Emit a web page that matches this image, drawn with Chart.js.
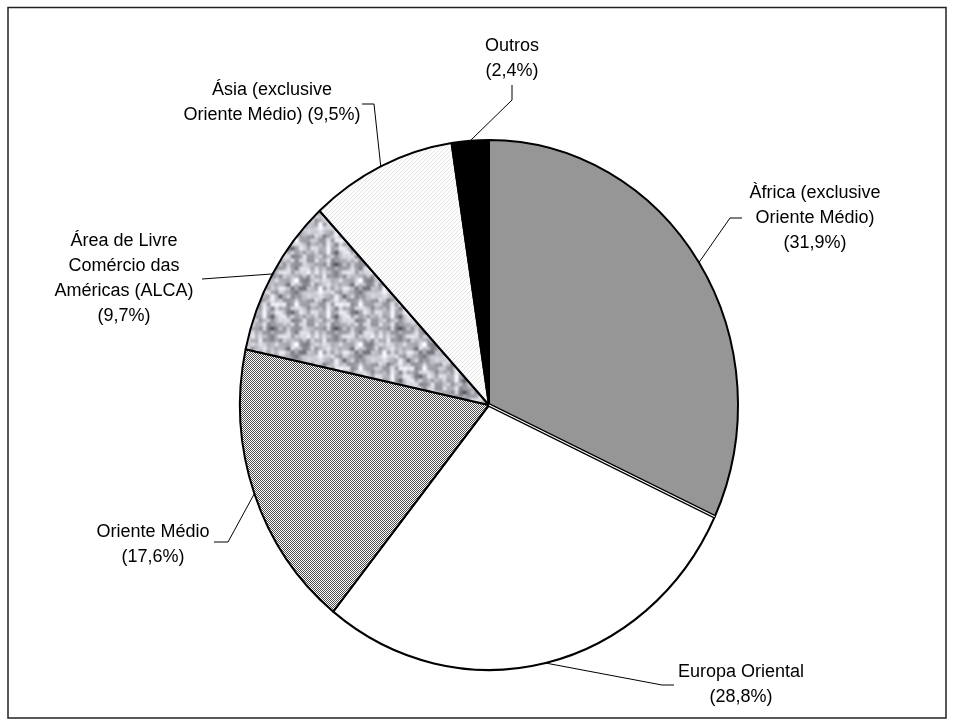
<!DOCTYPE html>
<html><head><meta charset="utf-8">
<script src="https://cdn.jsdelivr.net/npm/chart.js@4/dist/chart.umd.min.js"></script>
<style>html,body{margin:0;padding:0;background:#fff;} #wrap{position:relative;width:955px;height:726px;}</style>
</head><body><div id="wrap"><canvas id="c" width="955" height="726"></canvas></div>
<script>
// ---- data ----
const categories = [
  'Àfrica (exclusive\nOriente Médio)',
  'Europa Oriental',
  'Oriente Médio',
  'Área de Livre\nComércio das\nAméricas (ALCA)',
  'Ásia (exclusive\nOriente Médio)',
  'Outros'
];
const shares = [31.9, 28.8, 17.6, 9.7, 9.5, 2.4];

// ---- layout (positions, not data) ----
const RX = 249, K = 265 / 249, LINE_H = 25;
const labelLayout = [
  {x: 815, y: 193, leader: [[742, 218], [730, 218]]},
  {x: 741, y: 672, leader: [[674, 685], [662, 685]]},
  {x: 153, y: 532, leader: [[214, 542], [228, 542]]},
  {x: 124, y: 241, leader: [[202, 279]]},
  {x: 272, y: 90, inline: true, leader: [[362, 104], [374, 104]]},
  {x: 512, y: 46, leader: [[512, 85], [512, 100]]}
];

// ---- fill textures ----
function tile(w, h, fn) {
  const c = document.createElement('canvas'); c.width = w; c.height = h;
  const x = c.getContext('2d'); const img = x.createImageData(w, h);
  for (let j = 0; j < h; j++) for (let i = 0; i < w; i++) {
    const v = fn(i, j); const o = (j * w + i) * 4;
    img.data[o] = v[0]; img.data[o + 1] = v[1]; img.data[o + 2] = v[2]; img.data[o + 3] = 255;
  }
  x.putImageData(img, 0, 0); return c;
}
function seeded(s) { return function () { s = (Math.imul(s, 1664525) + 1013904223) >>> 0; return s / 4294967296; }; }
const rnd = seeded(98765);
function octave(n) { const g = []; for (let a = 0; a < n; a++) { g.push([]); for (let b = 0; b < n; b++) g[a].push(rnd()); } return g; }
const T = 64, g1 = octave(8), g2 = octave(16);
function sm(t) { return t * t * (3 - 2 * t); }
function sample(g, n, i, j) {
  const gx = i * n / T, gy = j * n / T; const x0 = Math.floor(gx), y0 = Math.floor(gy);
  const fx = sm(gx - x0), fy = sm(gy - y0);
  const a = g[y0 % n][x0 % n], b = g[y0 % n][(x0 + 1) % n], c = g[(y0 + 1) % n][x0 % n], d = g[(y0 + 1) % n][(x0 + 1) % n];
  return (a * (1 - fx) + b * fx) * (1 - fy) + (c * (1 - fx) + d * fx) * fy;
}
const ctx0 = document.getElementById('c').getContext('2d');
function pat(canvas) { return ctx0.createPattern(canvas, 'repeat'); }
const checker = pat(tile(2, 2, (i, j) => ((i + j) % 2 === 0) ? [80, 80, 80] : [255, 255, 255]));
const granite = pat(tile(T, T, (i, j) => {
  const v = 0.5 * sample(g1, 8, i, j) + 0.5 * sample(g2, 16, i, j);
  const gval = Math.max(0, Math.min(255, Math.round(80 + v * 190)));
  return [gval, gval, Math.min(255, gval + 8)];
}));
const hatch = pat(tile(4, 4, (i, j) => ((i + j) % 4 === 0) ? [226, 226, 226] : [255, 255, 255]));

const fills = ['#969696', '#ffffff', checker, granite, hatch, '#000000'];

// ---- plugins ----
const ellipsePlugin = {
  id: 'ellipse',
  beforeDatasetsDraw(chart) {
    const a = chart.getDatasetMeta(0).data[0]; const c = chart.ctx;
    c.save(); c.translate(a.x, a.y); c.scale(1, K); c.translate(-a.x, -a.y);
    const f0 = a.y * (K - 1) / K;
    [checker, granite, hatch].forEach(p => p.setTransform(new DOMMatrix([1, 0, 0, 1 / K, 0, f0])));
  },
  afterDatasetsDraw(chart) {
    const c = chart.ctx; const a = chart.getDatasetMeta(0).data[0];
    // double edge between the first two slices
    const ex = a.x + a.outerRadius * Math.cos(a.endAngle), ey = a.y + a.outerRadius * Math.sin(a.endAngle);
    c.lineCap = 'butt';
    c.beginPath(); c.moveTo(a.x, a.y); c.lineTo(ex, ey);
    c.strokeStyle = '#000'; c.lineWidth = 3.5; c.stroke();
    c.strokeStyle = '#fff'; c.lineWidth = 1; c.stroke();
    c.restore();
  }
};
function fmt(v) { return v.toFixed(1).replace('.', ','); }
const labelPlugin = {
  id: 'labels',
  afterDraw(chart) {
    const c = chart.ctx; const meta = chart.getDatasetMeta(0);
    c.save();
    // frame
    c.strokeStyle = '#222'; c.lineWidth = 1.5; c.strokeRect(8, 7.5, 938, 710.5);
    // leaders
    c.strokeStyle = '#000'; c.lineWidth = 1;
    meta.data.forEach((arc, i) => {
      const L = labelLayout[i]; const mid = (arc.startAngle + arc.endAngle) / 2;
      const px = arc.x + arc.outerRadius * Math.cos(mid), py = arc.y + arc.outerRadius * K * Math.sin(mid);
      c.beginPath(); c.moveTo(L.leader[0][0], L.leader[0][1]);
      for (let k = 1; k < L.leader.length; k++) c.lineTo(L.leader[k][0], L.leader[k][1]);
      c.lineTo(px, py); c.stroke();
    });
    // texts
    c.fillStyle = '#000'; c.font = '18px "Liberation Sans", Arial, sans-serif';
    c.textAlign = 'center'; c.textBaseline = 'middle';
    categories.forEach((name, i) => {
      const L = labelLayout[i]; const lines = name.split('\n'); const pct = '(' + fmt(shares[i]) + '%)';
      if (L.inline) lines[lines.length - 1] += ' ' + pct; else lines.push(pct);
      lines.forEach((t, k) => c.fillText(t, L.x, L.y + k * LINE_H));
    });
    c.restore();
  }
};

new Chart(document.getElementById('c'), {
  type: 'pie',
  data: {
    labels: categories,
    datasets: [{data: shares, backgroundColor: fills, borderColor: '#000', borderWidth: 2, hoverOffset: 0}]
  },
  options: {
    responsive: false, animation: false, events: [],
    radius: RX,
    layout: {padding: {left: 23, right: 0, top: 84, bottom: 0}},
    plugins: {legend: {display: false}, tooltip: {enabled: false}}
  },
  plugins: [ellipsePlugin, labelPlugin]
});
</script></body></html>
